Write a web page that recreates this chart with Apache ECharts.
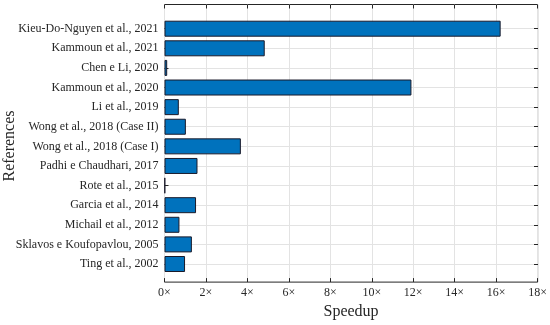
<!DOCTYPE html>
<html>
<head>
<meta charset="utf-8">
<script src="https://cdn.jsdelivr.net/npm/echarts@6/dist/echarts.min.js"></script>
<style>html,body{margin:0;padding:0;background:#fff}#c{width:550px;height:325px}</style>
</head>
<body>
<div id="c"></div>
<script>
const categories = [
  'Kieu-Do-Nguyen et al., 2021',
  'Kammoun et al., 2021',
  'Chen e Li, 2020',
  'Kammoun et al., 2020',
  'Li et al., 2019',
  'Wong et al., 2018 (Case II)',
  'Wong et al., 2018 (Case I)',
  'Padhi e Chaudhari, 2017',
  'Rote et al., 2015',
  'Garcia et al., 2014',
  'Michail et al., 2012',
  'Sklavos e Koufopavlou, 2005',
  'Ting et al., 2002'
];
const speedup = [16.2, 4.83, 0.13, 11.9, 0.69, 1.03, 3.68, 1.59, 0.03, 1.52, 0.72, 1.32, 0.99];
const xMin = 0, xMax = 18, xStep = 2;

const FONT = 'Liberation Serif';
const AX = '#262626';
const GRIDC = '#e3e3e3';

const chart = echarts.init(document.getElementById('c'), null, {renderer: 'canvas'});
chart.setOption({
  animation: false,
  backgroundColor: '#fff',
  textStyle: {fontFamily: FONT},
  grid: [
    {left: 164.5, right: 12, top: 4.5, bottom: 38, show: true, borderColor: AX, borderWidth: 1, backgroundColor: 'transparent'},
    {left: 164.5, right: 12, top: 28.7, bottom: 61}
  ],
  xAxis: [
    {gridIndex: 0, type: 'value', min: xMin, max: xMax, interval: xStep, position: 'bottom',
     axisLine: {show: false}, axisTick: {show: true, inside: true, length: 4, lineStyle: {color: AX}},
     splitLine: {show: true, lineStyle: {color: GRIDC, width: 1}},
     axisLabel: {formatter: v => v + '\u00d7', color: AX, fontSize: 12, fontFamily: FONT, margin: 5},
     name: 'Speedup', nameLocation: 'middle', nameGap: 21, nameTextStyle: {color: AX, fontSize: 16, fontFamily: FONT}},
    {gridIndex: 0, type: 'value', min: xMin, max: xMax, interval: xStep, position: 'top',
     axisLine: {show: false}, axisTick: {show: true, inside: true, length: 4, lineStyle: {color: AX}},
     splitLine: {show: false}, axisLabel: {show: false}},
    {gridIndex: 1, type: 'value', min: xMin, max: xMax, interval: xStep, show: false}
  ],
  yAxis: [
    {gridIndex: 0, type: 'value', show: false, min: 0, max: 1},
    {gridIndex: 1, type: 'category', data: categories, inverse: true, boundaryGap: false,
     axisLine: {show: false}, axisTick: {show: true, inside: true, length: 4, lineStyle: {color: AX}},
     splitLine: {show: true, lineStyle: {color: GRIDC, width: 1}},
     axisLabel: {color: AX, fontSize: 12, fontFamily: FONT, margin: 6}},
    {gridIndex: 1, type: 'category', data: categories, inverse: true, boundaryGap: false, position: 'right',
     axisLine: {show: false}, axisTick: {show: true, inside: true, length: 4, lineStyle: {color: AX}},
     splitLine: {show: false}, axisLabel: {show: false}}
  ],
  graphic: [
    {type: 'text', x: 10, y: 146, rotation: Math.PI / 2,
     style: {text: 'References', fill: AX, font: '16px "' + FONT + '"', textAlign: 'center', textVerticalAlign: 'middle'}}
  ],
  series: [
    {type: 'bar', xAxisIndex: 2, yAxisIndex: 1, data: speedup, barWidth: 16,
     itemStyle: {color: '#0072BD', borderColor: '#1a1a2a', borderWidth: 1}}
  ]
});
</script>
</body>
</html>
